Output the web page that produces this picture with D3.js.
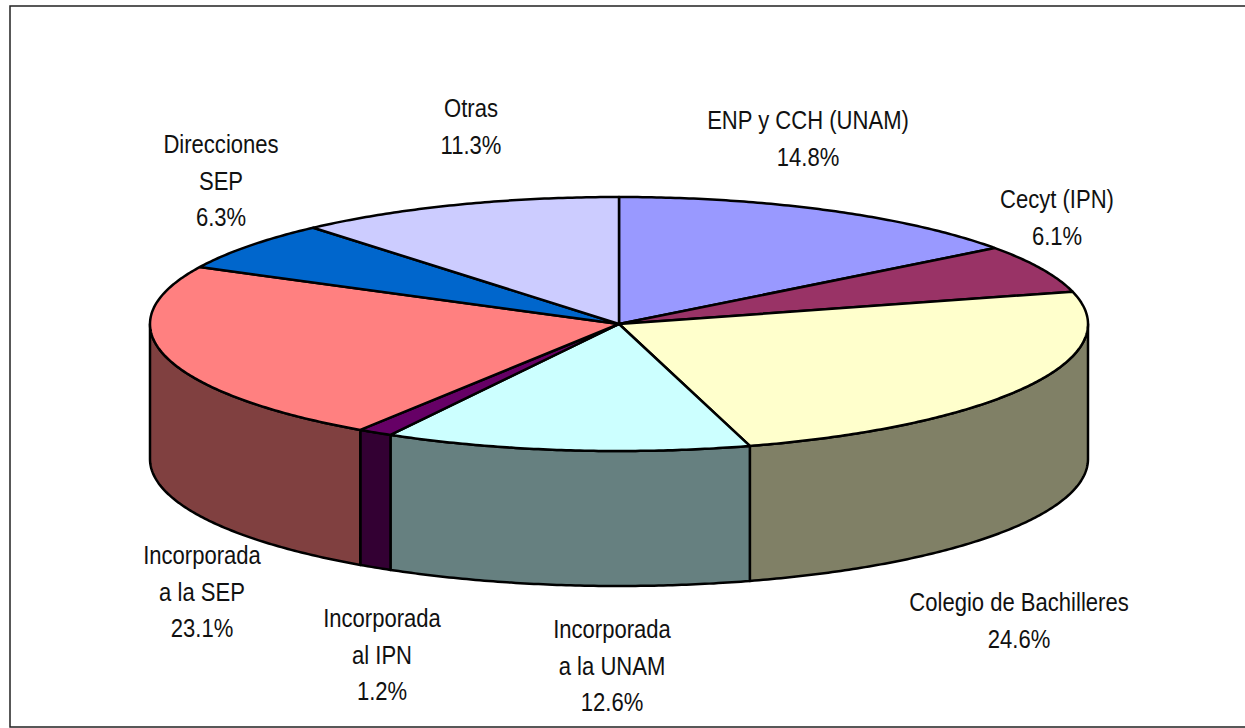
<!DOCTYPE html>
<html>
<head>
<meta charset="utf-8">
<script src="https://cdn.jsdelivr.net/npm/d3@7"></script>
<style>
  html, body { margin: 0; padding: 0; background: #fff; }
  text { font-family: "Liberation Sans", Arial, sans-serif; font-size: 25.5px; fill: #111; }
</style>
</head>
<body>
<svg id="chart" width="1245" height="728"></svg>
<script>
"use strict";

// Data
const categories = [
  ["ENP y CCH (UNAM)"],
  ["Cecyt (IPN)"],
  ["Colegio de Bachilleres"],
  ["Incorporada", "a la UNAM"],
  ["Incorporada", "al IPN"],
  ["Incorporada", "a la SEP"],
  ["Direcciones", "SEP"],
  ["Otras"]
];
const values = [14.8, 6.1, 24.6, 12.6, 1.2, 23.1, 6.3, 11.3];
const topColors = ["#9999ff", "#993366", "#ffffcc", "#ccffff", "#660066", "#ff8080", "#0066cc", "#ccccff"];
const sideColors = ["#4d4d80", "#4d1a33", "#808066", "#668080", "#330033", "#804040", "#003366", "#666680"];

// Layout: center x and first baseline of each label
const labelX = [808, 1057, 1019, 612, 382, 202, 221, 471];
const labelY = [129, 208, 611, 638, 627, 564, 153, 117];
const lineGap = 36.5;
const narrow = 0.865; // the original font is a condensed one

const cx = 619, cy = 324, rx = 469, ry = 127, depth = 135;

const svg = d3.select("#chart");

// frame
svg.append("path")
  .attr("d", "M1245,6H10V727H1245")
  .attr("fill", "none")
  .attr("stroke", "#222")
  .attr("stroke-width", 1.5);

const slices = d3.pie().sort(null).value(d => d)(values);

const px = a => cx + rx * Math.sin(a);
const py = a => cy - ry * Math.cos(a);

const arcPoints = (a0, a1, dy) => {
  const n = Math.max(2, Math.ceil((a1 - a0) / 0.01));
  return d3.range(n + 1).map(i => {
    const a = a0 + (a1 - a0) * i / n;
    return [px(a), py(a) + dy];
  });
};

const line = d3.line();
const g = svg.append("g")
  .attr("stroke", "#000")
  .attr("stroke-width", 2.5)
  .attr("stroke-linejoin", "round");

// sides, only the part facing the viewer
const HALF = Math.PI / 2;
const front = slices.filter(d => d.endAngle > HALF && d.startAngle < 3 * HALF);
g.selectAll("path.side")
  .data(front)
  .enter()
  .append("path")
  .attr("class", "side")
  .attr("fill", d => sideColors[d.index])
  .attr("d", d => {
    const a0 = Math.max(d.startAngle, HALF),
      a1 = Math.min(d.endAngle, 3 * HALF);
    return line(arcPoints(a0, a1, 0).concat(arcPoints(a0, a1, depth).reverse())) + "Z";
  });

// top face
g.selectAll("path.top")
  .data(slices)
  .enter()
  .append("path")
  .attr("class", "top")
  .attr("fill", d => topColors[d.index])
  .attr("d", d => line([[cx, cy]].concat(arcPoints(d.startAngle, d.endAngle, 0))) + "Z");

// labels
categories.forEach((lines, i) => {
  lines.concat([values[i].toFixed(1) + "%"]).forEach((s, j) => {
    svg.append("text")
      .attr("text-anchor", "middle")
      .attr("transform", "translate(" + labelX[i] + "," + (labelY[i] + j * lineGap) + ") scale(" + narrow + ",1)")
      .text(s);
  });
});
</script>
</body>
</html>
